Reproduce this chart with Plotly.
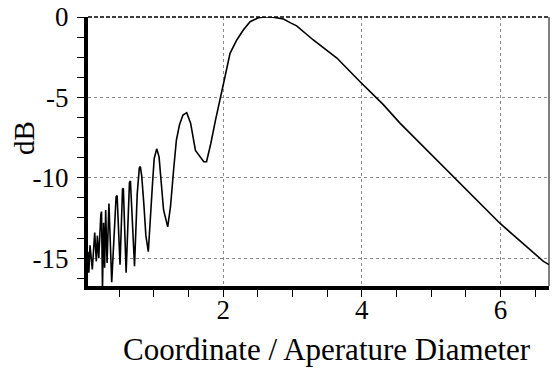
import plotly.graph_objects as go

# Curve (coordinate / aperture diameter, dB)
x_vals = [0.050, 0.062, 0.079, 0.095, 0.112, 0.147, 0.170, 0.185, 0.205, 0.235,
          0.245, 0.259, 0.275, 0.290, 0.305, 0.325, 0.343, 0.352, 0.392, 0.455,
          0.470, 0.512, 0.548, 0.560, 0.600, 0.648, 0.662, 0.721, 0.760, 0.790,
          0.805, 0.825, 0.855, 0.885, 0.920, 0.950, 0.980, 1.005, 1.041, 1.075,
          1.105, 1.140, 1.200, 1.240, 1.285, 1.325, 1.370, 1.420, 1.474, 1.530,
          1.600, 1.650, 1.720, 1.760, 1.820, 1.890, 1.955, 2.027, 2.099, 2.196,
          2.290, 2.388, 2.507, 2.600, 2.700, 2.796, 2.870, 2.965, 3.060, 3.300,
          3.640, 3.975, 4.240, 4.310, 4.550, 5.320, 5.995, 6.620, 6.700]
db_vals = [-14.6, -15.9, -14.2, -15.0, -15.7, -13.4, -15.2, -13.6, -15.0, -12.3,
           -12.1, -16.9, -12.8, -15.6, -12.0, -15.3, -11.7, -11.6, -16.5, -11.2,
           -11.1, -15.4, -10.7, -10.65, -15.9, -10.3, -10.2, -15.5, -11.0, -9.4,
           -9.3, -9.9, -11.6, -13.6, -14.6, -12.8, -10.4, -8.8, -8.2, -8.7,
           -10.4, -12.0, -13.05, -11.8, -9.5, -7.65, -6.7, -6.1, -5.95, -6.6,
           -8.3, -8.6, -9.0, -9.0, -7.9, -6.4, -5.2, -3.7, -2.26, -1.43,
           -0.81, -0.29, -0.05, 0.0, 0.0, -0.05, -0.12, -0.35, -0.55, -1.43,
           -2.55, -4.03, -5.16, -5.45, -6.6, -9.94, -12.84, -15.2, -15.4]

x_tickvals = [2, 4, 6]
y_tickvals = [0, -5, -10, -15]
x_title = "Coordinate / Aperature Diameter"
y_title = "dB"

FONT = "Liberation Serif, Times New Roman, serif"

fig = go.Figure()
fig.add_trace(go.Scatter(x=x_vals, y=db_vals, mode="lines",
                         line=dict(color="black", width=1.6),
                         showlegend=False, hoverinfo="skip"))

fig.update_layout(
    width=552, height=369,
    margin=dict(l=88, r=3, t=17, b=83, autoexpand=False),
    paper_bgcolor="white", plot_bgcolor="white",
    font=dict(family=FONT, size=27, color="black"),
    shapes=[
        dict(type="line", xref="paper", yref="paper", x0=0, x1=1, y0=1, y1=1,
             line=dict(color="black", width=1.5, dash="4px,2px")),
        dict(type="line", xref="paper", yref="paper", x0=1, x1=1, y0=0, y1=1,
             line=dict(color="black", width=1)),
    ],
    annotations=[
        dict(text=x_title, xref="paper", yref="paper", x=0.518, y=-0.166,
             xanchor="center", yanchor="top", showarrow=False, borderpad=0,
             font=dict(family=FONT, size=31, color="black")),
        dict(text=y_title, xref="paper", yref="paper", x=-0.139, y=0.55,
             xanchor="center", yanchor="middle", textangle=-90, showarrow=False,
             font=dict(family=FONT, size=29, color="black")),
    ],
)

fig.update_xaxes(
    range=[0.05, 6.70], tickvals=x_tickvals, ticktext=[str(v) for v in x_tickvals],
    showline=True, linecolor="black", linewidth=4, mirror=False, automargin=False,
    ticks="outside", ticklen=7, tickwidth=1, tickcolor="black",
    showgrid=True, gridcolor="#8a8a8a", griddash="dot", gridwidth=1,
    zeroline=False,
    minor=dict(dtick=0.5, tick0=0, ticks="outside", ticklen=7, tickwidth=1,
               tickcolor="black", showgrid=False),
    tickfont=dict(family=FONT, size=27, color="black"),
    ticklabelstandoff=-10,
)
fig.update_yaxes(
    range=[-16.73, 0], tickvals=y_tickvals, ticktext=[str(v) for v in y_tickvals],
    showline=True, linecolor="black", linewidth=4, mirror=False, automargin=False,
    ticks="outside", ticklen=7, tickwidth=1, tickcolor="black",
    showgrid=True, gridcolor="#8a8a8a", griddash="dot", gridwidth=1,
    zeroline=False,
    minor=dict(dtick=1.25, tick0=0, ticks="outside", ticklen=7, tickwidth=1,
               tickcolor="black", showgrid=False),
    tickfont=dict(family=FONT, size=27, color="black"),
    ticklabelstandoff=3,
)

fig.write_html("out.html", config={"displayModeBar": False},
               post_script="document.body.style.margin='0px';")
